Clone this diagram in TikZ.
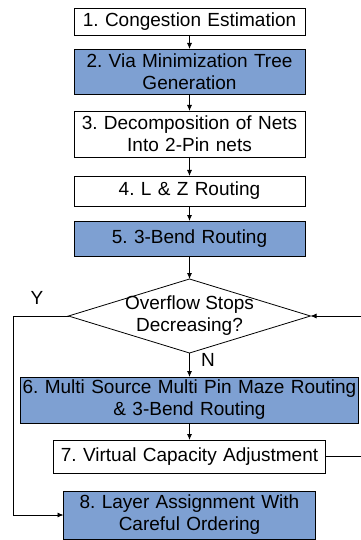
\documentclass[tikz,border=0pt]{standalone}
\usepackage{fontspec}
\setmainfont{Liberation Sans}
\usepackage{xcolor}
\usetikzlibrary{positioning}
\usetikzlibrary{shapes.geometric}
\usetikzlibrary{arrows.meta}
\definecolor{stepblue}{RGB}{126,160,210}
\frenchspacing

\begin{document}
\begin{tikzpicture}[
        box/.style={rectangle, draw=black, line width=0.8pt, inner sep=0pt, outer sep=0pt, minimum width=231pt, text width=231pt, align=center, font=\fontsize{19}{22}\selectfont},
        bluebox/.style={box, fill=stepblue},
        decision/.style={diamond, draw=black, line width=0.8pt, inner sep=0pt, outer sep=0pt, minimum width=242pt, minimum height=74pt},
        lbl/.style={font=\fontsize{19}{22}\selectfont, inner sep=0pt},
        >={Latex[length=6pt,width=5pt]}
    ]
    \useasboundingbox (0,0) rectangle (360pt,-540pt);

    \node[box, minimum height=27pt] (1_1) at (189.5pt,-21.5pt) {1. Congestion Estimation};
    \node[bluebox, minimum height=45pt] (2_1) [below=14pt of 1_1] {2. Via Minimization Tree\\Generation};
    \node[box, minimum height=46pt] (3_1) [below=17pt of 2_1] {3. Decomposition of Nets\\Into 2-Pin nets};
    \node[box, minimum height=30pt] (4_1) [below=19pt of 3_1] {4. L \& Z Routing};
    \node[bluebox, minimum height=35pt] (5_1) [below=15pt of 4_1] {5. 3-Bend Routing};
    \node[decision] (dec) [below=23pt of 5_1] {};
    \node[lbl, align=center] (dec_txt) at (dec) {Overflow Stops\\Decreasing?};
    \node[bluebox, minimum width=338pt, text width=338pt, minimum height=46pt] (6_1) [below=24pt of dec] {6. Multi Source Multi Pin Maze Routing\\\& 3-Bend Routing};
    \node[box, minimum width=272pt, text width=272pt, minimum height=33pt] (7_1) [below=17pt of 6_1] {7. Virtual Capacity Adjustment};
    \node[bluebox, minimum width=252pt, text width=252pt, minimum height=48pt] (8_1) [below=18pt of 7_1] {8. Layer Assignment With\\Careful Ordering};

    \node[lbl] (y_lbl) at (37pt,-298pt) {Y};
    \node[lbl] (n_lbl) at (208pt,-360pt) {N};

    \coordinate (loop_l) at (13.5pt,0);
    \coordinate (loop_r) at (366pt,0);

    \draw[->, line width=0.8pt] (1_1.south) to (2_1.north);
    \draw[->, line width=0.8pt] (2_1.south) to (3_1.north);
    \draw[->, line width=0.8pt] (3_1.south) to (4_1.north);
    \draw[->, line width=0.8pt] (4_1.south) to (5_1.north);
    \draw[->, line width=0.8pt] (5_1.south) to (dec.north);
    \draw[->, line width=0.8pt] (dec.south) to (6_1.north);
    \draw[->, line width=0.8pt] (6_1.south) to (7_1.north);

    \draw[->, line width=0.8pt] (7_1.east) -- (7_1.east -| loop_r) -- (dec.east -| loop_r) -- (dec.east);
    \draw[->, line width=0.8pt] (dec.west) -- (dec.west -| loop_l) -- (8_1.west -| loop_l) -- (8_1.west);
\end{tikzpicture}
\end{document}
